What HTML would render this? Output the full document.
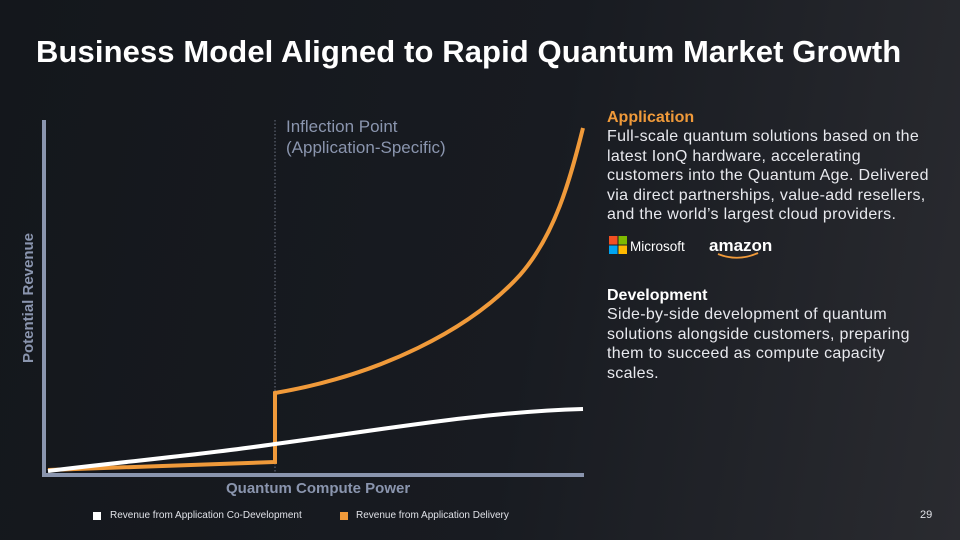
<!DOCTYPE html>
<html><head><meta charset="utf-8"><style>
body{margin:0;width:960px;height:540px;overflow:hidden;background:linear-gradient(100deg,#14171c 0%,#181b21 55%,#2a2b30 100%);font-family:"Liberation Sans",sans-serif;position:relative}
.t{position:absolute;white-space:nowrap}
h1{position:absolute;left:36px;top:34px;margin:0;font-size:31px;color:#fff;font-weight:bold;letter-spacing:0.1px}
.body{position:absolute;left:607px;white-space:nowrap;font-size:16px;line-height:19.4px;color:#e8e9ee;letter-spacing:0.3px}
.body b{display:block;font-size:16px;letter-spacing:0}
</style></head><body>
<h1>Business Model Aligned to Rapid Quantum Market Growth</h1>
<svg width="960" height="540" style="position:absolute;left:0;top:0">
<line x1="275" y1="120" x2="275" y2="475" stroke="#6b7180" stroke-width="1" stroke-dasharray="1.5,2"/>
<path d="M48 470 L275 462 L275 393 C380 375 470 330 520 275 C555 235 570 180 583 128" fill="none" stroke="#f09a3a" stroke-width="4"/>
<path d="M48 471 C120 462 200 455 275 444 C380 430 480 412 583 409" fill="none" stroke="#fff" stroke-width="4"/>
<line x1="44" y1="120" x2="44" y2="477" stroke="#8a95ae" stroke-width="4"/>
<line x1="42" y1="475" x2="584" y2="475" stroke="#8a95ae" stroke-width="4"/>
<text x="33" y="298" transform="rotate(-90 33 298)" text-anchor="middle" fill="#8a95ae" font-size="15" font-weight="bold" font-family="Liberation Sans">Potential Revenue</text>
<rect x="609" y="236" width="8.5" height="8.5" fill="#f25022"/><rect x="618.5" y="236" width="8.5" height="8.5" fill="#7fba00"/>
<rect x="609" y="245.5" width="8.5" height="8.5" fill="#00a4ef"/><rect x="618.5" y="245.5" width="8.5" height="8.5" fill="#ffb900"/>
<text x="630" y="251" fill="#fff" font-size="13.5" font-family="Liberation Sans">Microsoft</text>
<text x="709" y="251" fill="#fff" font-size="17" font-weight="bold" font-family="Liberation Sans">amazon</text>
<path d="M718 254 Q738 262 758 253" fill="none" stroke="#f09a3a" stroke-width="1.8"/>
<rect x="93" y="512" width="8" height="8" fill="#fff"/>
<rect x="340" y="512" width="8" height="8" fill="#f09a3a"/>
</svg>
<div class="t" style="left:286px;top:116px;color:#8a95ae;font-size:17px;line-height:21px">Inflection Point<br>(Application-Specific)</div>
<div class="t" style="left:226px;top:480px;color:#8a95ae;font-size:15px;font-weight:bold">Quantum Compute Power</div>
<div class="t" style="left:110px;top:510px;color:#e0e2e8;font-size:10px">Revenue from Application Co-Development</div>
<div class="t" style="left:356px;top:510px;color:#e0e2e8;font-size:10px">Revenue from Application Delivery</div>
<div class="t" style="left:920px;top:509px;color:#e0e2e8;font-size:11px">29</div>
<div class="body" style="top:108px"><b style="color:#f09a3a">Application</b>Full-scale quantum solutions based on the<br>latest IonQ hardware, accelerating<br>customers into the Quantum Age. Delivered<br>via direct partnerships, value-add resellers,<br>and the world’s largest cloud providers.</div>
<div class="body" style="top:286px"><b style="color:#fff">Development</b>Side-by-side development of quantum<br>solutions alongside customers, preparing<br>them to succeed as compute capacity<br>scales.</div>
</body></html>
